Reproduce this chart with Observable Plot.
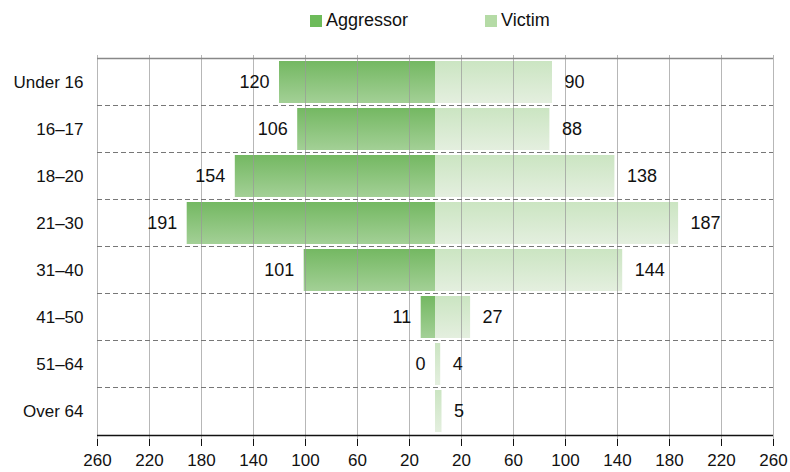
<!DOCTYPE html>
<html>
<head>
<meta charset="utf-8">
<script src="https://cdn.jsdelivr.net/npm/d3@7"></script>
<script src="https://cdn.jsdelivr.net/npm/@observablehq/plot@0.6"></script>
<style>
  html, body { margin: 0; padding: 0; background: #fff; }
  body { width: 790px; height: 472px; overflow: hidden; font-family: "Liberation Sans", Arial, Helvetica, sans-serif; }
  #legend { height: 40px; position: relative; font-size: 18px; color: #111; }
  .item { position: absolute; top: 10px; display: flex; align-items: center; }
  .sw { width: 12px; height: 12px; margin-right: 4px; }
  #chart svg { display: block; }
</style>
</head>
<body>
<div id="legend"></div>
<div id="chart"></div>
<script>
const ages = ["Under 16", "16–17", "18–20", "21–30", "31–40", "41–50", "51–64", "Over 64"];
const aggressor = [120, 106, 154, 191, 101, 11, 0, null];
const victim = [90, 88, 138, 187, 144, 27, 4, 5];
const tickValues = [-260, -220, -180, -140, -100, -60, -20, 20, 60, 100, 140, 180, 220, 260];
const seriesNames = ["Aggressor", "Victim"];
const seriesColors = ["#6dbb5a", "#b5dba6"];

// legend
const legend = document.getElementById("legend");
const legendLeft = [310, 485];
seriesNames.forEach((name, i) => {
  const it = document.createElement("div");
  it.className = "item";
  it.style.left = legendLeft[i] + "px";
  it.innerHTML = `<div class="sw" style="background:${seriesColors[i]}"></div><span>${name}</span>`;
  legend.appendChild(it);
});

const width = 790, height = 432;
const mt = 15, mb = 33, ml = 97, mr = 17;
const step = (height - mt - mb) / ages.length;

const rowsA = ages.map((a, i) => ({age: a, v: aggressor[i]})).filter(d => d.v != null);
const rowsV = ages.map((a, i) => ({age: a, v: victim[i]}));

const chart = Plot.plot({
  width, height,
  marginTop: mt, marginBottom: mb, marginLeft: ml, marginRight: mr,
  style: {fontFamily: '"Liberation Sans", Arial, Helvetica, sans-serif', color: "#111", background: "#fff"},
  x: {domain: [-260, 260], ticks: tickValues, tickFormat: d => Math.abs(d), label: null, tickSize: 7, tickPadding: 7},
  y: {domain: ages, label: null, padding: 0.1, tickSize: 0, tickPadding: 14},
  marks: [
    Plot.barX(rowsA.filter(d => d.v > 0), {x1: 0, x2: d => -d.v, y: "age", fill: "url(#gradA)"}),
    Plot.barX(rowsV, {x1: 0, x2: d => d.v, y: "age", fill: "url(#gradV)"}),
    Plot.ruleX(tickValues, {stroke: "#999", strokeOpacity: 0.7, strokeWidth: 1}),
    Plot.ruleY(ages.slice(1), {y: d => d, dy: -step / 2, stroke: "#777", strokeDasharray: "5,3", strokeWidth: 1}),
    Plot.ruleY(ages.slice(0, 1), {y: d => d, dy: -step / 2, stroke: "#888", strokeWidth: 1.5}),
    Plot.ruleY(ages.slice(-1), {y: d => d, dy: step / 2, stroke: "#111", strokeWidth: 1.5}),
    Plot.text(rowsA, {x: d => -d.v, y: "age", text: d => String(d.v), textAnchor: "end", dx: -10, fontSize: 18, fill: "#111"}),
    Plot.text(rowsV, {x: d => d.v, y: "age", text: d => String(d.v), textAnchor: "start", dx: 12, fontSize: 18, fill: "#111"})
  ]
});

// gradients
const svg = d3.select(chart);
const defs = svg.insert("defs", ":first-child");
const gA = defs.append("linearGradient").attr("id", "gradA").attr("x1", 0).attr("y1", 0).attr("x2", 0).attr("y2", 1);
gA.append("stop").attr("offset", "0%").attr("stop-color", "#74b862");
gA.append("stop").attr("offset", "100%").attr("stop-color", "#a3d096");
const gV = defs.append("linearGradient").attr("id", "gradV").attr("x1", 0).attr("y1", 0).attr("x2", 0).attr("y2", 1);
gV.append("stop").attr("offset", "0%").attr("stop-color", "#cbe5c2");
gV.append("stop").attr("offset", "100%").attr("stop-color", "#e4efdf");

// axis font sizes
svg.selectAll("[aria-label='y-axis tick label'] text").attr("font-size", 17);
svg.selectAll("[aria-label='x-axis tick label'] text").attr("font-size", 17);
svg.selectAll("[aria-label='x-axis tick'] path").attr("stroke", "#111");

document.getElementById("chart").appendChild(chart);
</script>
</body>
</html>
